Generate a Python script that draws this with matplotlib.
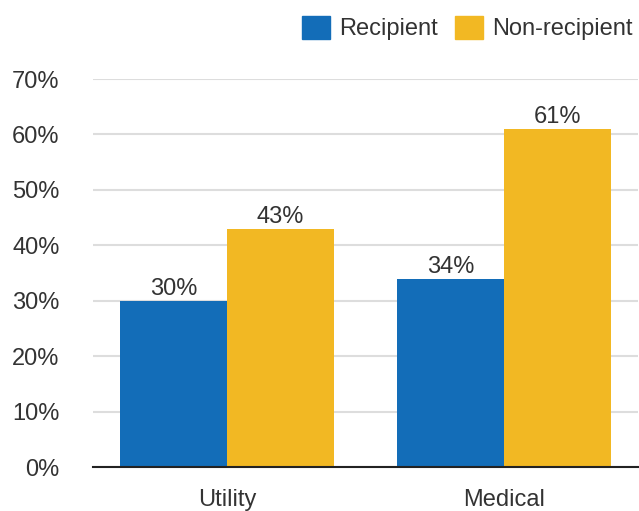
import matplotlib.pyplot as plt
import numpy as np
from matplotlib.patches import Patch

categories = ['Utility', 'Medical']
recipient = [30, 34]
non_recipient = [43, 61]
y_ticks = [0, 10, 20, 30, 40, 50, 60, 70]

blue = '#136db8'
yellow = '#f2b823'
text_col = '#333333'
fs = 17

plt.rcParams['font.family'] = ['Liberation Sans', 'DejaVu Sans']

fig = plt.figure(figsize=(6.39, 5.11), dpi=100)
ax = fig.add_axes([0.1455, 0.0861, 0.853, 0.7593])

x = np.arange(len(categories))
w = 0.386
b1 = ax.bar(x - w / 2, recipient, w, color=blue, zorder=3)
b2 = ax.bar(x + w / 2, non_recipient, w, color=yellow, zorder=3)

for bars in (b1, b2):
    for bar in bars:
        ax.annotate(f'{bar.get_height():.0f}%', (bar.get_x() + bar.get_width() / 2, bar.get_height()),
                    xytext=(0, 0.5), textcoords='offset points',
                    ha='center', va='bottom', fontsize=fs, color=text_col)

ax.set_xlim(-0.484, 1.484)
ax.set_ylim(0, 70)
ax.set_yticks(y_ticks)
ax.set_yticklabels([f'{t}%' for t in y_ticks])
ax.set_xticks(x)
ax.set_xticklabels(categories)
ax.tick_params(axis='y', length=0, pad=24, labelsize=fs, labelcolor=text_col)
ax.tick_params(axis='x', length=0, pad=15.5, labelsize=fs, labelcolor=text_col)
ax.grid(axis='y', color='#dddddd', linewidth=1.5, zorder=0)
for s in ['top', 'right', 'left']:
    ax.spines[s].set_visible(False)
ax.spines['bottom'].set_color('#222222')
ax.spines['bottom'].set_linewidth(1.5)
ax.spines['bottom'].set_zorder(4)

handles = [Patch(color=blue, label='Recipient'), Patch(color=yellow, label='Non-recipient')]
fig.legend(handles=handles, loc='upper right', bbox_to_anchor=(1.012, 0.997), ncol=2,
           frameon=False, fontsize=fs, handlelength=1.15, handleheight=1.15,
           handletextpad=0.4, columnspacing=0.75, labelcolor=text_col,
           borderaxespad=0.2)

fig.savefig('out.png', dpi=100)
